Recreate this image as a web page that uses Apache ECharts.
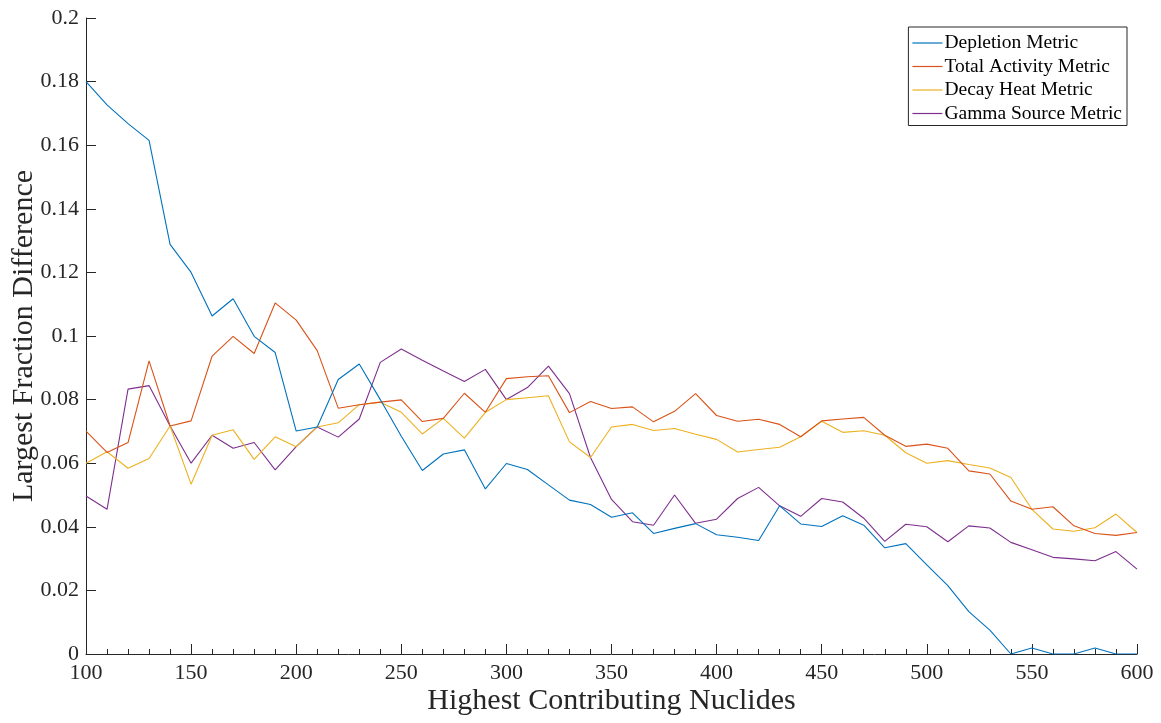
<!DOCTYPE html>
<html>
<head>
<meta charset="utf-8">
<script src="https://cdn.jsdelivr.net/npm/echarts@6/dist/echarts.min.js"></script>
<style>
  html, body { margin: 0; padding: 0; background: #fff; }
  #chart { width: 1161px; height: 723px; }
</style>
</head>
<body>
<div id="chart"></div>
<script>
// Number of highest contributing nuclides kept (100 .. 600 in steps of 10)
const nuclides = [100,110,120,130,140,150,160,170,180,190,200,210,220,230,240,250,260,270,280,290,300,
  310,320,330,340,350,360,370,380,390,400,410,420,430,440,450,460,470,480,490,500,
  510,520,530,540,550,560,570,580,590,600];

const depletion = [0.1800,0.1727,0.1668,0.1615,0.1288,0.1200,0.1063,0.1117,0.0999,0.0948,0.0701,
  0.0714,0.0863,0.0912,0.0800,0.0685,0.0577,0.0629,0.0642,0.0519,0.0599,
  0.0580,0.0532,0.0484,0.0470,0.0430,0.0444,0.0379,0.0395,0.0410,0.0375,
  0.0367,0.0357,0.0466,0.0409,0.0401,0.0435,0.0405,0.0334,0.0347,0.0280,
  0.0215,0.0133,0.0075,0.0000,0.0019,0.0000,0.0000,0.0019,0.0000,0.0000];

const totalActivity = [0.0701,0.0634,0.0665,0.0922,0.0717,0.0733,0.0937,0.0999,0.0945,0.1104,0.1050,
  0.0954,0.0773,0.0784,0.0792,0.0799,0.0731,0.0741,0.0820,0.0760,0.0866,
  0.0872,0.0875,0.0759,0.0794,0.0772,0.0777,0.0730,0.0763,0.0819,0.0750,
  0.0732,0.0738,0.0722,0.0683,0.0733,0.0739,0.0744,0.0688,0.0653,0.0660,
  0.0647,0.0576,0.0566,0.0481,0.0455,0.0463,0.0403,0.0379,0.0373,0.0382];

const decayHeat = [0.0600,0.0636,0.0584,0.0615,0.0717,0.0534,0.0688,0.0705,0.0612,0.0683,0.0652,
  0.0714,0.0727,0.0784,0.0792,0.0760,0.0692,0.0741,0.0679,0.0760,0.0800,
  0.0806,0.0812,0.0667,0.0618,0.0714,0.0722,0.0703,0.0709,0.0691,0.0675,
  0.0635,0.0643,0.0650,0.0683,0.0732,0.0697,0.0702,0.0688,0.0633,0.0600,
  0.0608,0.0596,0.0585,0.0555,0.0455,0.0393,0.0386,0.0397,0.0440,0.0382];

const gammaSource = [0.0497,0.0455,0.0833,0.0844,0.0717,0.0600,0.0688,0.0647,0.0665,0.0579,0.0652,
  0.0714,0.0682,0.0739,0.0917,0.0959,0.0924,0.0890,0.0857,0.0895,0.0800,
  0.0838,0.0905,0.0819,0.0618,0.0486,0.0416,0.0405,0.0500,0.0411,0.0424,
  0.0489,0.0524,0.0466,0.0433,0.0489,0.0478,0.0427,0.0354,0.0408,0.0400,
  0.0353,0.0403,0.0396,0.0351,0.0328,0.0304,0.0299,0.0293,0.0322,0.0267];

const seriesNames = ['Depletion Metric', 'Total Activity Metric', 'Decay Heat Metric', 'Gamma Source Metric'];
const seriesColors = ['#0072BD', '#D95319', '#EDB120', '#7E2F8E'];
const seriesValues = [depletion, totalActivity, decayHeat, gammaSource];

const FONT = '"Liberation Serif", "DejaVu Serif", serif';
const INK = '#262626';

const chart = echarts.init(document.getElementById('chart'), null, { renderer: 'canvas' });

chart.setOption({
  animation: false,
  backgroundColor: '#ffffff',
  textStyle: { fontFamily: FONT, color: INK },
  grid: { left: 86, right: 24, top: 18, bottom: 69, containLabel: false, outerBoundsMode: 'none' },
  legend: {
    orient: 'vertical',
    right: 34,
    top: 27,
    padding: [6, 5, 2, 4],
    backgroundColor: '#ffffff',
    borderColor: '#262626',
    borderWidth: 1,
    borderRadius: 0,
    icon: 'rect',
    itemWidth: 30,
    itemHeight: 1.2,
    itemGap: 3.5,
    textStyle: { fontFamily: FONT, fontSize: 19.5, lineHeight: 20, color: '#000', padding: [0, 0, 0, -3] },
    data: seriesNames
  },
  xAxis: {
    type: 'value',
    min: 100,
    max: 600,
    interval: 50,
    name: 'Highest Contributing Nuclides',
    nameLocation: 'middle',
    nameGap: 32,
    nameMoveOverlap: false,
    nameTextStyle: { fontFamily: FONT, fontSize: 30, color: INK, verticalAlign: 'top' },
    axisLine: { show: true, onZero: false, lineStyle: { color: INK, width: 1 } },
    axisTick: { show: true, inside: true, length: 10, lineStyle: { color: INK } },
    minorTick: { show: true, splitNumber: 5, length: 5, lineStyle: { color: INK } },
    splitLine: { show: false },
    axisLabel: { fontFamily: FONT, fontSize: 22, color: INK, margin: 8 }
  },
  yAxis: {
    type: 'value',
    min: 0,
    max: 0.2,
    interval: 0.02,
    name: 'Largest Fraction Difference',
    nameLocation: 'middle',
    nameGap: 47,
    nameMoveOverlap: false,
    nameTextStyle: { fontFamily: FONT, fontSize: 30, color: INK },
    axisLine: { show: true, onZero: false, lineStyle: { color: INK, width: 1 } },
    axisTick: { show: true, inside: true, length: 10, lineStyle: { color: INK } },
    splitLine: { show: false },
    axisLabel: {
      fontFamily: FONT, fontSize: 22, color: INK, margin: 7,
      formatter: v => String(+v.toFixed(2))
    }
  },
  series: seriesNames.map((name, i) => ({
    name: name,
    type: 'line',
    data: nuclides.map((x, j) => [x, seriesValues[i][j]]),
    symbol: 'none',
    color: seriesColors[i],
    lineStyle: { width: 1.1, color: seriesColors[i] },
    z: 2 + (seriesNames.length - i)
  }))
});
</script>
</body>
</html>
